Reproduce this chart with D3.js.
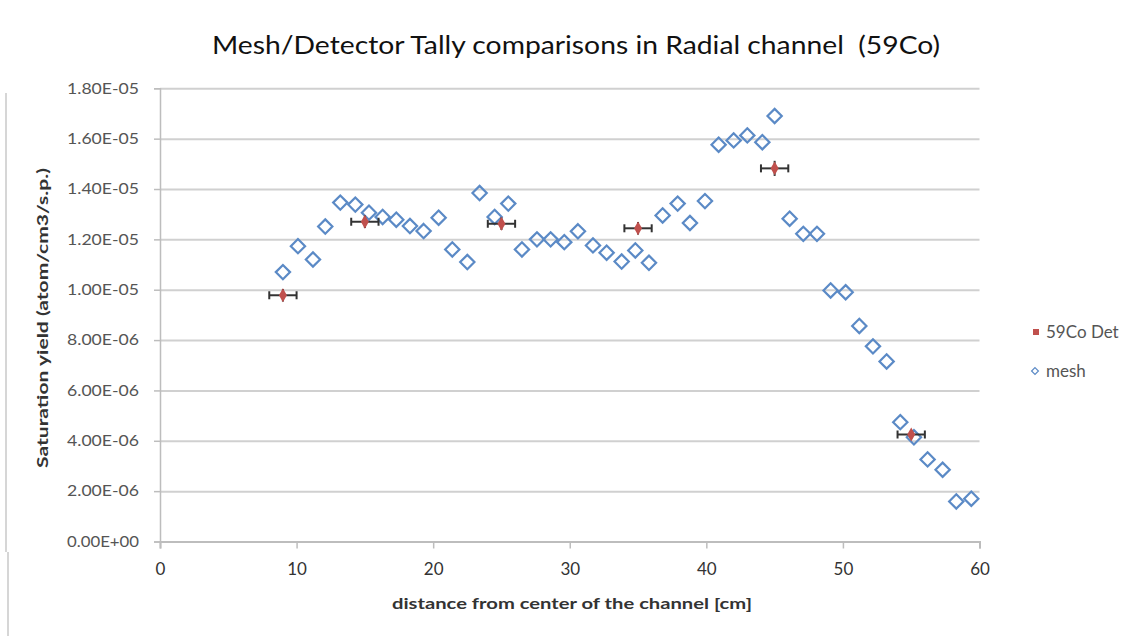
<!DOCTYPE html>
<html>
<head>
<meta charset="utf-8">
<script src="https://cdn.jsdelivr.net/npm/d3@7"></script>
<style>
  html, body { margin: 0; padding: 0; background: #fff; }
  svg { display: block; font-family: Lato, "Open Sans", "DejaVu Sans", sans-serif; }
</style>
</head>
<body>
<svg id="chart" width="1141" height="636"></svg>
<script>
// Mesh tally: distance from channel centre [cm] and saturation yield
const meshX = [9.0, 10.1, 11.2, 12.1, 13.2, 14.3, 15.3, 16.3, 17.3, 18.3,
               19.3, 20.4, 21.4, 22.5, 23.4, 24.5, 25.5, 26.5, 27.6, 28.6,
               29.6, 30.6, 31.7, 32.7, 33.8, 34.8, 35.8, 36.8, 37.9, 38.8,
               39.9, 40.9, 42.0, 43.0, 44.1, 45.0, 46.1, 47.1, 48.1, 49.1,
               50.2, 51.2, 52.2, 53.2, 54.2, 55.2, 56.2, 57.3, 58.3, 59.4];
const meshY = [10.70e-6, 11.73e-6, 11.20e-6, 12.51e-6, 13.46e-6, 13.38e-6, 13.06e-6, 12.89e-6, 12.78e-6, 12.53e-6,
               12.33e-6, 12.86e-6, 11.60e-6, 11.10e-6, 13.84e-6, 12.89e-6, 13.42e-6, 11.60e-6, 12.00e-6, 12.00e-6,
               11.89e-6, 12.32e-6, 11.76e-6, 11.47e-6, 11.12e-6, 11.56e-6, 11.07e-6, 12.95e-6, 13.42e-6, 12.65e-6,
               13.52e-6, 15.76e-6, 15.93e-6, 16.13e-6, 15.86e-6, 16.90e-6, 12.82e-6, 12.22e-6, 12.22e-6, 9.97e-6,
               9.90e-6, 8.56e-6, 7.75e-6, 7.15e-6, 4.74e-6, 4.14e-6, 3.26e-6, 2.85e-6, 1.59e-6, 1.70e-6];

// 59Co detector tally with its uncertainties
const detX = [9, 15, 25, 35, 45, 55];
const detY = [9.78e-6, 12.70e-6, 12.62e-6, 12.44e-6, 14.82e-6, 4.25e-6];
const detXErr = [1, 1, 1, 1, 1, 1];
const detYErr = [0.25e-6, 0.25e-6, 0.25e-6, 0.25e-6, 0.30e-6, 0.18e-6];

// Axis ticks
const xTicks = [0, 10, 20, 30, 40, 50, 60];
const yTicks = [0, 2e-6, 4e-6, 6e-6, 8e-6, 10e-6, 12e-6, 14e-6, 16e-6, 18e-6];
const yTickLabels = ["0.00E+00", "2.00E-06", "4.00E-06", "6.00E-06", "8.00E-06",
                     "1.00E-05", "1.20E-05", "1.40E-05", "1.60E-05", "1.80E-05"];

const seriesNames = ["59Co Det", "mesh"];
const title = "Mesh/Detector Tally comparisons in Radial channel  (59Co)";
const xTitle = "distance from center of the channel [cm]";
const yTitle = "Saturation yield (atom/cm3/s.p.)";

const svg = d3.select("#chart");
const plot = { left: 160, right: 979.5, top: 88.3, bottom: 541.5 };

const x = d3.scaleLinear().domain([0, 60]).range([plot.left, plot.right]);
const y = d3.scaleLinear().domain([0, 1.8e-5]).range([plot.bottom, plot.top]);

const gridColor = "#d0d0d0";
const axisColor = "#bdbdbd";
const textColor = "#555";
const meshColor = "#5b8ac6";
const detColor = "#c0504d";

// faint frame lines at the left edge
svg.append("line").attr("x1", 6).attr("x2", 6).attr("y1", 93).attr("y2", 552)
  .attr("stroke", "#c8c8c8").attr("stroke-width", 1.5);
svg.append("line").attr("x1", 8).attr("x2", 8).attr("y1", 552).attr("y2", 636)
  .attr("stroke", "#c8c8c8").attr("stroke-width", 1.5);

// horizontal gridlines
svg.append("g")
  .attr("transform", `translate(${plot.left},0)`)
  .call(d3.axisLeft(y).tickValues(yTicks.slice(1)).tickSize(-(plot.right - plot.left)).tickFormat(""))
  .call(g => g.select(".domain").remove())
  .call(g => g.selectAll("line").attr("stroke", gridColor).attr("stroke-width", 2));

// y axis
const yAxis = svg.append("g")
  .attr("transform", `translate(${plot.left},0)`)
  .call(d3.axisLeft(y).tickValues(yTicks).tickSize(6).tickPadding(15)
    .tickFormat((d, i) => yTickLabels[i]));
yAxis.select(".domain").attr("stroke", axisColor).attr("stroke-width", 1.5);
yAxis.selectAll("line").attr("stroke", axisColor).attr("stroke-width", 1.5);
yAxis.selectAll("text").attr("fill", textColor).style("font-size", "15px")
  .style("font-family", "Lato, 'Open Sans', sans-serif")
  .attr("textLength", 72).attr("lengthAdjust", "spacingAndGlyphs");

// x axis
const xAxis = svg.append("g")
  .attr("transform", `translate(0,${plot.bottom})`)
  .call(d3.axisBottom(x).tickValues(xTicks).tickSize(7).tickPadding(14).tickFormat(d3.format("d")));
xAxis.select(".domain").attr("stroke", axisColor).attr("stroke-width", 2);
xAxis.selectAll("line").attr("stroke", axisColor).attr("stroke-width", 1.5);
xAxis.selectAll("text").attr("fill", "#333").style("font-size", "17px")
  .style("font-family", "Lato, 'Open Sans', sans-serif");

// mesh markers: hollow diamonds
const diamond = d3.symbol().type(d3.symbolDiamond2).size(130);
svg.append("g").selectAll("path")
  .data(meshX.map((d, i) => [d, meshY[i]]))
  .join("path")
  .attr("d", diamond)
  .attr("transform", d => `translate(${x(d[0])},${y(d[1])})`)
  .attr("fill", "none")
  .attr("stroke", meshColor)
  .attr("stroke-width", 2.2);

// detector error bars
const errG = svg.append("g").attr("stroke", "#333").attr("stroke-width", 2);
detX.forEach((d, i) => {
  const cx = x(d), cy = y(detY[i]);
  const x0 = x(d - detXErr[i]), x1 = x(d + detXErr[i]);
  const y0 = y(detY[i] - detYErr[i]), y1 = y(detY[i] + detYErr[i]);
  errG.append("line").attr("x1", x0).attr("x2", x1).attr("y1", cy).attr("y2", cy);
  errG.append("line").attr("x1", x0).attr("x2", x0).attr("y1", cy - 4).attr("y2", cy + 4);
  errG.append("line").attr("x1", x1).attr("x2", x1).attr("y1", cy - 4).attr("y2", cy + 4);
  errG.append("line").attr("x1", cx).attr("x2", cx).attr("y1", y0).attr("y2", y1);
});

// detector markers
const detMarker = d3.symbol().type(d3.symbolDiamond).size(55);
svg.append("g").selectAll("path")
  .data(detX.map((d, i) => [d, detY[i]]))
  .join("path")
  .attr("d", detMarker)
  .attr("transform", d => `translate(${x(d[0])},${y(d[1])})`)
  .attr("fill", detColor);

// title
svg.append("text")
  .attr("x", 576).attr("y", 54)
  .attr("text-anchor", "middle")
  .attr("fill", "#111")
  .style("font-size", "25px")
  .style("white-space", "pre")
  .attr("textLength", 728).attr("lengthAdjust", "spacingAndGlyphs")
  .text(title);

// axis titles
svg.append("text")
  .attr("x", 572).attr("y", 609)
  .attr("text-anchor", "middle")
  .attr("fill", "#333")
  .style("font-size", "16px").style("font-weight", "bold")
  .attr("textLength", 360).attr("lengthAdjust", "spacingAndGlyphs")
  .text(xTitle);

svg.append("text")
  .attr("transform", "translate(48,318) rotate(-90)")
  .attr("text-anchor", "middle")
  .attr("fill", "#333")
  .style("font-size", "15px").style("font-weight", "bold")
  .attr("textLength", 300).attr("lengthAdjust", "spacingAndGlyphs")
  .text(yTitle);

// legend
const legend = svg.append("g");
legend.append("rect").attr("x", 1033).attr("y", 329).attr("width", 6).attr("height", 6).attr("fill", detColor);
legend.append("path").attr("d", d3.symbol().type(d3.symbolDiamond2).size(30))
  .attr("transform", "translate(1035,371)")
  .attr("fill", "none").attr("stroke", meshColor).attr("stroke-width", 1.2);
legend.selectAll("text")
  .data(seriesNames)
  .join("text")
  .attr("x", 1046)
  .attr("y", (d, i) => 338 + i * 39)
  .attr("fill", textColor)
  .style("font-size", "17px")
  .text(d => d);
</script>
</body>
</html>
